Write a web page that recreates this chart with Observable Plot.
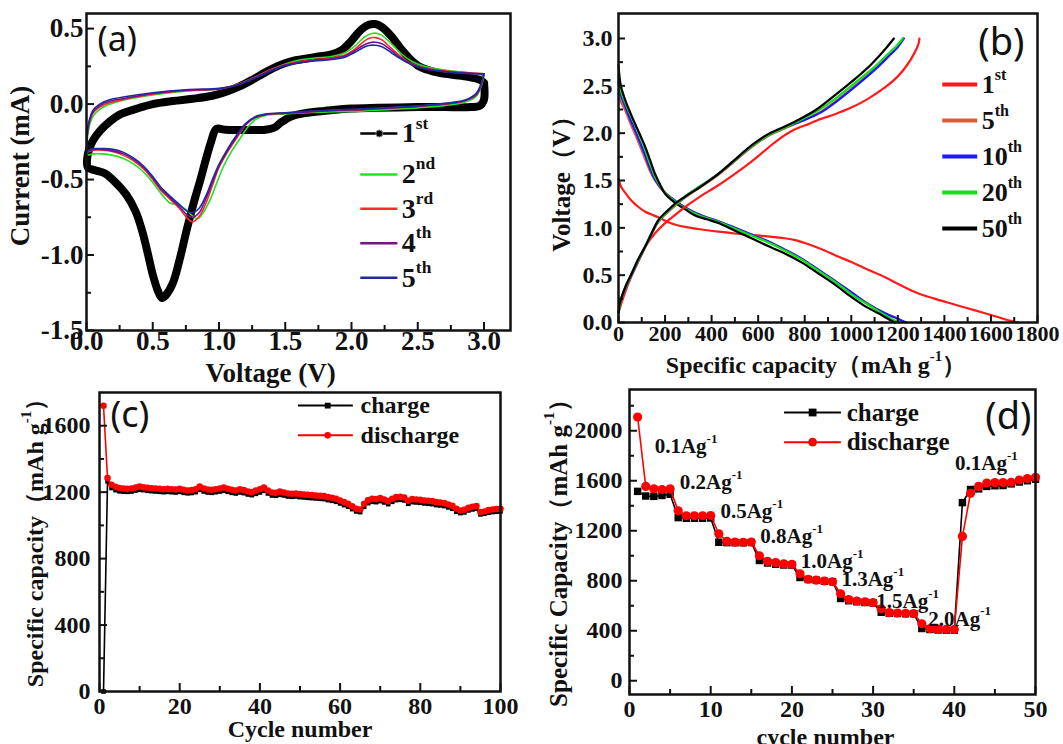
<!DOCTYPE html>
<html><head><meta charset="utf-8">
<script src="https://cdn.jsdelivr.net/npm/d3@7"></script>
<script src="https://cdn.jsdelivr.net/npm/@observablehq/plot@0.6"></script>
<style>
html,body{margin:0;padding:0;background:#fff;}
#root{position:relative;width:1063px;height:744px;overflow:hidden;background:#fff;}
#root svg{position:absolute;}
</style></head>
<body><div id="root"></div>
<script>
// ---------- (a) CV curves: [voltage V, current mA] ----------
const cv1st = [[3.0,0.14],[3.0,0.03],[2.97,-0.01],[2.9,-0.02],[2.7,-0.02],[2.5,-0.02],[2.2,-0.025],[2.0,-0.03],[1.8,-0.045],[1.65,-0.06],[1.55,-0.08],[1.47,-0.12],[1.42,-0.155],[1.35,-0.17],[1.2,-0.172],[1.05,-0.17],[0.98,-0.165],[0.94,-0.25],[0.9,-0.37],[0.86,-0.5],[0.82,-0.62],[0.76,-0.82],[0.7,-1.04],[0.65,-1.19],[0.6,-1.265],[0.57,-1.285],[0.54,-1.24],[0.5,-1.13],[0.46,-0.98],[0.42,-0.84],[0.37,-0.71],[0.3,-0.6],[0.22,-0.52],[0.14,-0.46],[0.07,-0.44],[0.01,-0.42],
 [0.005,-0.36],[0.02,-0.3],[0.05,-0.24],[0.1,-0.18],[0.17,-0.12],[0.25,-0.07],[0.38,-0.03],[0.5,0.0],[0.65,0.02],[0.8,0.035],[0.95,0.055],[1.05,0.08],[1.15,0.115],[1.25,0.16],[1.35,0.21],[1.45,0.255],[1.55,0.285],[1.65,0.3],[1.75,0.315],[1.85,0.33],[1.93,0.36],[2.0,0.42],[2.07,0.49],[2.13,0.525],[2.18,0.53],[2.23,0.51],[2.3,0.45],[2.37,0.37],[2.44,0.3],[2.52,0.245],[2.62,0.215],[2.75,0.195],[2.88,0.18],[2.97,0.16],[3.0,0.14]];
const cv2nd = [[3.0,0.19],[2.98,0.12],[2.94,0.05],[2.85,0.01],[2.7,-0.01],[2.5,-0.025],[2.3,-0.035],[2.1,-0.045],[1.9,-0.05],[1.7,-0.055],[1.5,-0.065],[1.35,-0.075],[1.28,-0.1],[1.22,-0.15],[1.15,-0.24],[1.09,-0.32],[1.03,-0.42],[0.98,-0.53],[0.93,-0.64],[0.88,-0.72],[0.84,-0.76],[0.8,-0.74],[0.75,-0.7],[0.69,-0.665],[0.63,-0.655],[0.57,-0.6],[0.5,-0.52],[0.43,-0.45],[0.36,-0.4],[0.28,-0.36],[0.2,-0.34],[0.12,-0.33],[0.05,-0.33],[0.01,-0.335],
 [0.005,-0.25],[0.02,-0.15],[0.05,-0.08],[0.1,-0.035],[0.18,0.0],[0.3,0.03],[0.5,0.06],[0.75,0.085],[1.0,0.1],[1.1,0.12],[1.2,0.15],[1.3,0.19],[1.4,0.23],[1.5,0.265],[1.6,0.29],[1.72,0.305],[1.85,0.315],[1.95,0.34],[2.02,0.38],[2.08,0.43],[2.13,0.46],[2.18,0.47],[2.23,0.455],[2.3,0.4],[2.38,0.33],[2.46,0.28],[2.55,0.25],[2.7,0.225],[2.85,0.21],[3.0,0.19]];
const cv3rd = [[3.0,0.2],[2.98,0.13],[2.94,0.06],[2.85,0.02],[2.7,0.0],[2.5,-0.015],[2.3,-0.025],[2.1,-0.035],[1.9,-0.04],[1.7,-0.05],[1.5,-0.06],[1.35,-0.07],[1.27,-0.09],[1.2,-0.14],[1.13,-0.23],[1.07,-0.31],[1.0,-0.42],[0.95,-0.54],[0.9,-0.66],[0.85,-0.745],[0.8,-0.78],[0.76,-0.755],[0.7,-0.69],[0.63,-0.63],[0.56,-0.57],[0.5,-0.5],[0.43,-0.43],[0.36,-0.38],[0.28,-0.34],[0.2,-0.315],[0.12,-0.305],[0.05,-0.305],[0.01,-0.315],
 [0.005,-0.22],[0.02,-0.13],[0.05,-0.06],[0.1,-0.02],[0.18,0.01],[0.3,0.035],[0.5,0.065],[0.75,0.09],[1.0,0.1],[1.1,0.12],[1.2,0.15],[1.3,0.19],[1.4,0.23],[1.5,0.262],[1.6,0.28],[1.72,0.295],[1.85,0.305],[1.95,0.325],[2.02,0.36],[2.08,0.405],[2.13,0.435],[2.18,0.44],[2.23,0.425],[2.3,0.37],[2.38,0.31],[2.46,0.265],[2.55,0.24],[2.7,0.22],[2.85,0.21],[3.0,0.2]];
const cv4th = [[3.0,0.2],[2.98,0.13],[2.94,0.06],[2.85,0.02],[2.7,0.0],[2.5,-0.015],[2.3,-0.025],[2.1,-0.035],[1.9,-0.04],[1.7,-0.05],[1.5,-0.06],[1.35,-0.07],[1.27,-0.09],[1.2,-0.135],[1.13,-0.22],[1.07,-0.3],[1.0,-0.41],[0.95,-0.52],[0.9,-0.63],[0.85,-0.72],[0.8,-0.75],[0.76,-0.735],[0.7,-0.68],[0.63,-0.62],[0.56,-0.56],[0.5,-0.49],[0.43,-0.42],[0.36,-0.37],[0.28,-0.33],[0.2,-0.31],[0.12,-0.3],[0.05,-0.3],[0.01,-0.31],
 [0.005,-0.21],[0.02,-0.12],[0.05,-0.05],[0.1,-0.01],[0.18,0.02],[0.3,0.04],[0.5,0.07],[0.75,0.092],[1.0,0.1],[1.1,0.118],[1.2,0.148],[1.3,0.187],[1.4,0.226],[1.5,0.258],[1.6,0.275],[1.72,0.29],[1.85,0.3],[1.95,0.318],[2.02,0.35],[2.08,0.385],[2.13,0.405],[2.18,0.41],[2.23,0.4],[2.3,0.355],[2.38,0.3],[2.46,0.26],[2.55,0.235],[2.7,0.215],[2.85,0.205],[3.0,0.2]];
const cv5th = [[3.0,0.2],[2.98,0.14],[2.94,0.07],[2.85,0.025],[2.7,0.005],[2.5,-0.012],[2.3,-0.022],[2.1,-0.032],[1.9,-0.038],[1.7,-0.047],[1.5,-0.057],[1.35,-0.066],[1.27,-0.085],[1.2,-0.13],[1.13,-0.21],[1.07,-0.29],[1.0,-0.4],[0.95,-0.5],[0.9,-0.61],[0.85,-0.69],[0.8,-0.72],[0.76,-0.71],[0.7,-0.665],[0.63,-0.61],[0.56,-0.55],[0.5,-0.48],[0.43,-0.41],[0.36,-0.36],[0.28,-0.32],[0.2,-0.3],[0.12,-0.295],[0.05,-0.295],[0.01,-0.305],
 [0.005,-0.2],[0.02,-0.11],[0.05,-0.04],[0.1,0.0],[0.18,0.03],[0.3,0.05],[0.5,0.075],[0.75,0.095],[1.0,0.105],[1.1,0.118],[1.2,0.145],[1.3,0.183],[1.4,0.222],[1.5,0.255],[1.6,0.272],[1.72,0.285],[1.85,0.295],[1.95,0.31],[2.02,0.34],[2.08,0.37],[2.13,0.388],[2.18,0.39],[2.23,0.38],[2.3,0.34],[2.38,0.295],[2.46,0.258],[2.55,0.235],[2.7,0.215],[2.85,0.205],[3.0,0.2]];
const cvLabels = ["1^{st}","2^{nd}","3^{rd}","4^{th}","5^{th}"];
const cvColors = ["#000000","#22e022","#ff2a2a","#7a0f8a","#1f2a9e"];

// ---------- (b) charge/discharge profiles: [capacity mAh/g, voltage V] ----------
const dis1st = [[0,1.52],[10,1.44],[29,1.37],[55,1.29],[86,1.22],[115,1.17],[143,1.14],[180,1.1],[214,1.06],[250,1.03],[286,1.01],[350,0.985],[429,0.96],[500,0.94],[571,0.925],[640,0.91],[714,0.89],[760,0.87],[800,0.84],[845,0.8],[886,0.76],[940,0.7],[1000,0.64],[1070,0.56],[1143,0.48],[1215,0.39],[1286,0.31],[1360,0.25],[1429,0.2],[1500,0.15],[1571,0.1],[1640,0.05],[1690,0.015],[1715,0.0]];
const chg1st = [[0,0.1],[20,0.26],[57,0.5],[90,0.67],[120,0.82],[160,0.95],[200,1.05],[250,1.15],[286,1.22],[350,1.33],[429,1.45],[500,1.57],[571,1.7],[640,1.84],[686,1.93],[750,2.03],[820,2.1],[857,2.14],[930,2.2],[1000,2.27],[1070,2.36],[1143,2.48],[1200,2.6],[1240,2.72],[1270,2.84],[1287,2.93],[1293,3.0]];
const dis5th = [[0,2.42],[10,2.33],[29,2.24],[50,2.11],[71,1.99],[93,1.86],[114,1.73],[135,1.6],[157,1.5],[180,1.42],[200,1.37],[230,1.31],[257,1.26],[290,1.21],[329,1.16],[380,1.11],[429,1.07],[500,1.0],[571,0.93],[640,0.86],[714,0.77],[790,0.67],[857,0.56],[930,0.44],[1000,0.32],[1070,0.2],[1143,0.1],[1200,0.04],[1232,0.0]];
const chg5th = [[0,0.1],[14,0.26],[57,0.5],[114,0.79],[171,1.06],[214,1.17],[286,1.32],[429,1.56],[571,1.85],[643,1.97],[714,2.05],[790,2.13],[870,2.23],[950,2.37],[1050,2.57],[1110,2.7],[1160,2.82],[1200,2.92],[1222,3.0]];
const dis10th = [[0,2.55],[10,2.4],[29,2.28],[50,2.15],[71,2.03],[93,1.9],[114,1.77],[135,1.63],[157,1.51],[180,1.43],[200,1.37],[230,1.31],[257,1.26],[290,1.21],[329,1.16],[380,1.11],[429,1.07],[500,1.0],[571,0.93],[640,0.86],[714,0.77],[790,0.67],[857,0.56],[930,0.44],[1000,0.32],[1070,0.2],[1143,0.1],[1200,0.04],[1236,0.0]];
const chg10th = [[0,0.1],[14,0.27],[57,0.51],[114,0.8],[171,1.07],[214,1.18],[286,1.33],[429,1.57],[571,1.86],[643,1.98],[714,2.06],[790,2.13],[870,2.22],[950,2.36],[1050,2.56],[1110,2.69],[1160,2.81],[1200,2.91],[1226,3.0]];
const dis20th = [[0,2.62],[10,2.45],[29,2.32],[50,2.2],[71,2.09],[93,1.96],[114,1.83],[135,1.68],[157,1.54],[180,1.44],[200,1.37],[230,1.3],[257,1.25],[290,1.2],[329,1.15],[380,1.1],[429,1.06],[500,0.99],[571,0.92],[640,0.85],[714,0.76],[790,0.66],[857,0.55],[930,0.43],[1000,0.3],[1070,0.19],[1143,0.08],[1180,0.03],[1207,0.0]];
const chg20th = [[0,0.1],[14,0.27],[57,0.52],[114,0.8],[171,1.07],[214,1.18],[286,1.33],[429,1.57],[571,1.86],[643,1.98],[714,2.06],[790,2.15],[870,2.26],[950,2.4],[1050,2.6],[1100,2.7],[1150,2.82],[1190,2.91],[1221,3.0]];
const dis50th = [[0,2.72],[10,2.5],[29,2.35],[50,2.22],[71,2.1],[93,1.98],[114,1.86],[135,1.72],[157,1.57],[180,1.45],[200,1.36],[230,1.29],[257,1.24],[290,1.19],[329,1.13],[380,1.09],[429,1.05],[500,0.97],[571,0.89],[640,0.81],[714,0.73],[790,0.63],[857,0.52],[930,0.4],[1000,0.27],[1060,0.17],[1114,0.1],[1150,0.05],[1186,0.0]];
const chg50th = [[0,0.1],[5,0.2],[14,0.27],[30,0.38],[57,0.52],[85,0.67],[114,0.8],[140,0.93],[171,1.08],[214,1.19],[250,1.27],[286,1.33],[350,1.43],[429,1.57],[500,1.72],[571,1.87],[643,1.99],[714,2.07],[780,2.15],[850,2.25],[929,2.4],[980,2.5],[1029,2.6],[1075,2.7],[1114,2.8],[1150,2.9],[1183,3.0]];
const gcdLabels = ["1^{st}","5^{th}","10^{th}","20^{th}","50^{th}"];
const gcdColors = ["#ff1a1a","#e05a3a","#1a1aff","#12e012","#000000"];

// ---------- (c) cycling, cycles 1..100 ----------
const cCharge = [0,1265,1225,1212,1205,1203,1202,1204,1210,1214,1212,1208,1206,1204,1202,1200,1202,1200,1198,1202,1196,1193,1195,1200,1214,1204,1198,1196,1200,1204,1208,1202,1196,1192,1198,1194,1186,1182,1190,1198,1208,1192,1180,1178,1184,1180,1174,1172,1174,1170,1168,1166,1164,1162,1160,1158,1152,1148,1142,1132,1122,1112,1098,1084,1080,1112,1134,1142,1140,1146,1138,1128,1142,1152,1154,1150,1130,1140,1138,1136,1132,1130,1128,1122,1120,1116,1108,1100,1082,1074,1078,1090,1096,1100,1066,1070,1076,1080,1082,1084];
const cDischarge = [1720,1285,1245,1232,1225,1222,1220,1222,1228,1234,1230,1226,1224,1222,1220,1218,1220,1218,1216,1220,1214,1210,1212,1218,1234,1222,1216,1214,1218,1222,1228,1220,1214,1210,1218,1212,1204,1200,1210,1218,1228,1210,1198,1196,1204,1198,1192,1190,1192,1188,1186,1184,1182,1180,1178,1176,1170,1166,1160,1150,1140,1130,1115,1100,1096,1130,1152,1160,1158,1164,1156,1146,1160,1170,1172,1168,1148,1158,1156,1154,1150,1148,1146,1140,1138,1134,1126,1118,1100,1090,1094,1106,1112,1116,1080,1084,1092,1096,1098,1100];
const seriesLabels = ["charge","discharge"];

// ---------- (d) rate capability, cycles 1..50 ----------
const dCharge = [1515,1478,1475,1482,1492,1305,1300,1300,1300,1302,1108,1105,1104,1104,1106,962,942,932,926,925,826,810,804,796,792,658,640,632,626,622,548,540,538,536,536,418,410,406,405,405,1425,1530,1535,1555,1560,1562,1575,1590,1600,1612];
const dDischarge = [2110,1555,1535,1530,1535,1360,1320,1320,1320,1322,1176,1115,1110,1108,1110,1000,955,945,935,932,856,812,805,798,792,696,650,638,632,626,576,545,542,540,538,456,418,414,412,410,1155,1500,1555,1582,1585,1586,1588,1606,1618,1628];
const rateLabels = ["0.1Ag^{-1}","0.2Ag^{-1}","0.5Ag^{-1}","0.8Ag^{-1}","1.0Ag^{-1}","1.3Ag^{-1}","1.5Ag^{-1}","2.0Ag^{-1}","0.1Ag^{-1}"];
const rateLabelCycle = [3.1,6.2,11.2,16.1,21.1,26.1,30.4,36.8,40.1];
const rateLabelCap = [1875,1587,1355,1155,955,808,635,493,1736];

// ---------- helpers ----------
const serif = "'Liberation Serif','Times New Roman',serif";
const sans = "'Noto Sans','Open Sans',sans-serif";
const ink = "#111";
const root = document.getElementById("root");

function supify(svg){
  svg.querySelectorAll("text").forEach(t=>{
    const s = t.textContent;
    if(!s.includes("^{")) return;
    while(t.firstChild) t.removeChild(t.firstChild);
    const re=/\^\{([^}]*)\}/g; let last=0, m, up=false;
    const add=(txt,sup)=>{
      const ts=document.createElementNS("http://www.w3.org/2000/svg","tspan");
      ts.textContent=txt;
      if(sup){ts.setAttribute("font-size","0.62em");ts.setAttribute("dy","-0.8em");up=true;}
      else if(up){ts.setAttribute("dy","0.496em");up=false;}
      t.appendChild(ts);
    };
    while((m=re.exec(s))){ if(m.index>last) add(s.slice(last,m.index),false); add(m[1],true); last=re.lastIndex; }
    if(last<s.length) add(s.slice(last),false);
  });
}

function panel(cfg){
  const [mt,mr,mb,ml]=cfg.margin;
  const iw=cfg.width-ml-mr, ih=cfg.height-mt-mb;
  const marks=[
    ...cfg.marks,
    Plot.tickX(cfg.xMinor,{x:d=>d,insetTop:ih-cfg.minorLen,stroke:ink,strokeWidth:2}),
    Plot.tickX(cfg.xMajor,{x:d=>d,insetTop:ih-cfg.majorLen,stroke:ink,strokeWidth:2}),
    Plot.tickY(cfg.yMinor,{y:d=>d,insetRight:iw-cfg.minorLen,stroke:ink,strokeWidth:2}),
    Plot.tickY(cfg.yMajor,{y:d=>d,insetRight:iw-cfg.majorLen,stroke:ink,strokeWidth:2}),
    Plot.axisX(cfg.xMajor,{tickSize:0,tickPadding:cfg.xPad,tickFormat:cfg.xFmt,fontSize:cfg.tickFont,fontWeight:"bold",fill:ink,label:null}),
    Plot.axisY(cfg.yMajor,{tickSize:0,tickPadding:cfg.yPad,tickFormat:cfg.yFmt,fontSize:cfg.yTickFont||cfg.tickFont,fontWeight:"bold",fill:ink,label:null}),
    Plot.text([cfg.xTitle],{text:d=>d,frameAnchor:"bottom",textAnchor:"middle",dx:cfg.xTitleDx,dy:cfg.xTitleDy,lineAnchor:"middle",fontSize:cfg.titleFont,fontWeight:"bold",fill:ink}),
    Plot.text([cfg.yTitle],{text:d=>d,frameAnchor:"left",textAnchor:"middle",rotate:-90,dx:cfg.yTitleDx,dy:cfg.yTitleDy,lineAnchor:"middle",fontSize:cfg.yTitleFont||cfg.titleFont,fontWeight:"bold",fill:ink}),
    Plot.text([cfg.tag],{text:d=>d,frameAnchor:cfg.tagAnchor,textAnchor:cfg.tagAnchor.endsWith("left")?"start":"end",lineAnchor:"top",dx:cfg.tagDx,dy:cfg.tagDy,fontFamily:sans,fontWeight:"normal",fontSize:cfg.tagFont,fill:ink}),
    Plot.frame({stroke:ink,strokeWidth:2.5})
  ];
  const svg=Plot.plot({
    width:cfg.width,height:cfg.height,
    marginTop:mt,marginRight:mr,marginBottom:mb,marginLeft:ml,
    x:{domain:cfg.xDomain},y:{domain:cfg.yDomain},
    style:{background:"transparent",fontFamily:serif,fontWeight:"bold",overflow:"visible",color:ink},
    marks
  });
  supify(svg);
  svg.style.left=cfg.left+"px"; svg.style.top=cfg.top+"px";
  svg.style.position="absolute"; svg.style.maxWidth="none";
  root.appendChild(svg);
}
const f1=d=>d.toFixed(1), f0=d=>String(d);
const xy={x:d=>d[0],y:d=>d[1]};

// ---------- (a) ----------
const cvSeries=[cv1st,cv2nd,cv3rd,cv4th,cv5th];
const cvLegY=i=> i===0 ? -0.195 : -0.466-(i-1)*0.228;
panel({
  left:0,top:0,width:531,height:395,margin:[13,21,65,86],
  xDomain:[0,3.2],yDomain:[-1.5,0.6],
  xMajor:[0,0.5,1,1.5,2,2.5,3],xMinor:[0.25,0.75,1.25,1.75,2.25,2.75],
  yMajor:[-1.5,-1,-0.5,0,0.5],yMinor:[-1.25,-0.75,-0.25,0.25],
  xFmt:f1,yFmt:f1,tickFont:27,majorLen:8,minorLen:5,xPad:0,yPad:3,
  xTitle:"Voltage (V)",xTitleDx:-28,xTitleDy:43,
  yTitle:"Current (mA)",yTitleDx:-66,yTitleDy:-6,titleFont:27,
  tag:"(a)",tagAnchor:"top-left",tagDx:11,tagDy:13,tagFont:34,
  marks:[
    ...cvSeries.map((s,k)=>Plot.line(s,{...xy,stroke:cvColors[k],strokeWidth:k===0?8:1.6,curve:"catmull-rom",strokeLinejoin:"round",strokeLinecap:"round"})),
    Plot.ruleY(cvLabels,{y:(d,i)=>cvLegY(i),x1:2.07,x2:2.35,stroke:(d,i)=>cvColors[i],strokeWidth:2.5}),
    Plot.dot([cvLabels[0]],{x:2.21,y:cvLegY(0),r:3.5,fill:"#000",stroke:"#888",strokeWidth:1}),
    Plot.text(cvLabels,{x:2.38,y:(d,i)=>cvLegY(i),text:d=>d,textAnchor:"start",lineAnchor:"middle",fontSize:28,fontWeight:"bold",fill:ink})
  ]
});

// ---------- (b) ----------
const disSeries=[dis1st,dis5th,dis10th,dis20th,dis50th];
const chgSeries=[chg1st,chg5th,chg10th,chg20th,chg50th];
const gLegY=i=>2.514-i*0.38;
panel({
  left:531,top:0,width:532,height:395,margin:[13,26,73,87],
  xDomain:[0,1800],yDomain:[0,3.264],
  xMajor:[0,200,400,600,800,1000,1200,1400,1600,1800],xMinor:[100,300,500,700,900,1100,1300,1500,1700],
  yMajor:[0,0.5,1,1.5,2,2.5,3],yMinor:[0.25,0.75,1.25,1.75,2.25,2.75],
  xFmt:f0,yFmt:f1,tickFont:22,yTickFont:24,majorLen:7,minorLen:5,xPad:3,yPad:6,
  xTitle:"Specific capacity（mAh g^{-1}）",xTitleDx:-12,xTitleDy:43,
  yTitle:"Voltage（V）",yTitleDx:-57,yTitleDy:10,titleFont:24,yTitleFont:25,
  tag:"(b)",tagAnchor:"top-right",tagDx:-13,tagDy:15,tagFont:38,
  marks:[
    ...disSeries.map((s,k)=>Plot.line(s,{...xy,stroke:gcdColors[k],strokeWidth:2.2,curve:"catmull-rom"})),
    ...chgSeries.map((s,k)=>Plot.line(s,{...xy,stroke:gcdColors[k],strokeWidth:2.2,curve:"catmull-rom"})),
    Plot.ruleY(gcdLabels,{y:(d,i)=>gLegY(i),x1:1393,x2:1543,stroke:(d,i)=>gcdColors[i],strokeWidth:4}),
    Plot.text(gcdLabels,{x:1560,y:(d,i)=>gLegY(i),text:d=>d,textAnchor:"start",lineAnchor:"middle",fontSize:26,fontWeight:"bold",fill:ink})
  ]
});

// ---------- (c) ----------
const cRows=cDischarge.map((v,i)=>({cycle:i+1,charge:cCharge[i],discharge:v}));
const cLegY=[1721,1542];
panel({
  left:0,top:370,width:531,height:374,margin:[22,31,53,99],
  xDomain:[0,100],yDomain:[0,1800],
  xMajor:[0,20,40,60,80,100],xMinor:[10,30,50,70,90],
  yMajor:[0,400,800,1200,1600],yMinor:[200,600,1000,1400],
  xFmt:f0,yFmt:f0,tickFont:24,majorLen:8,minorLen:5,xPad:5,yPad:9,
  xTitle:"Cycle number",xTitleDx:0,xTitleDy:38,
  yTitle:"Specific capacity（mAh g^{-1}）",yTitleDx:-64,yTitleDy:-5,titleFont:24,
  tag:"(c)",tagAnchor:"top-left",tagDx:11,tagDy:9,tagFont:36,
  marks:[
    Plot.line(cRows,{x:"cycle",y:"charge",stroke:"#000",strokeWidth:1.6}),
    Plot.dot(cRows,{x:"cycle",y:"charge",symbol:"square",r:2.6,fill:"#000"}),
    Plot.line(cRows,{x:"cycle",y:"discharge",stroke:"#ff0000",strokeWidth:1.6}),
    Plot.dot(cRows,{x:"cycle",y:"discharge",r:3.3,fill:"#ff0000"}),
    Plot.ruleY(seriesLabels,{y:(d,i)=>cLegY[i],x1:49.6,x2:63.3,stroke:(d,i)=>i?"#ff0000":"#000",strokeWidth:2}),
    Plot.dot(seriesLabels,{x:56.9,y:(d,i)=>cLegY[i],symbol:(d,i)=>i?"circle":"square",r:3.3,fill:(d,i)=>i?"#ff0000":"#000"}),
    Plot.text(seriesLabels,{x:65.1,y:(d,i)=>cLegY[i],text:d=>d,textAnchor:"start",lineAnchor:"middle",fontSize:24,fontWeight:"bold",fill:ink})
  ]
});

// ---------- (d) ----------
const dRows=dDischarge.map((v,i)=>({cycle:i+1,charge:dCharge[i],discharge:v}));
const dLegY=[2146,1909];
panel({
  left:531,top:370,width:532,height:374,margin:[19,28,50,98],
  xDomain:[0,50],yDomain:[-110,2330],
  xMajor:[0,10,20,30,40,50],xMinor:[5,15,25,35,45],
  yMajor:[0,400,800,1200,1600,2000],yMinor:[200,600,1000,1400,1800,2200],
  xFmt:f0,yFmt:f0,tickFont:24,majorLen:8,minorLen:5,xPad:5,yPad:7,
  xTitle:"cycle number",xTitleDx:-7,xTitleDy:43,
  yTitle:"Specific Capacity（mAh g^{-1}）",yTitleDx:-71,yTitleDy:5,titleFont:24,yTitleFont:25,
  tag:"(d)",tagAnchor:"top-right",tagDx:-4,tagDy:13,tagFont:38,
  marks:[
    Plot.line(dRows,{x:"cycle",y:"charge",stroke:"#000",strokeWidth:1.6}),
    Plot.dot(dRows,{x:"cycle",y:"charge",symbol:"square",r:4.2,fill:"#000"}),
    Plot.line(dRows,{x:"cycle",y:"discharge",stroke:"#ff0000",strokeWidth:1.6}),
    Plot.dot(dRows,{x:"cycle",y:"discharge",r:4.6,fill:"#ff0000"}),
    Plot.text(rateLabels,{x:(d,i)=>rateLabelCycle[i],y:(d,i)=>rateLabelCap[i],text:d=>d,textAnchor:"start",lineAnchor:"middle",fontSize:21,fontWeight:"bold",fill:ink}),
    Plot.ruleY(seriesLabels,{y:(d,i)=>dLegY[i],x1:19.1,x2:26.1,stroke:(d,i)=>i?"#ff0000":"#000",strokeWidth:2}),
    Plot.dot(seriesLabels,{x:22.55,y:(d,i)=>dLegY[i],symbol:(d,i)=>i?"circle":"square",r:4.4,fill:(d,i)=>i?"#ff0000":"#000"}),
    Plot.text(seriesLabels,{x:26.75,y:(d,i)=>dLegY[i],text:d=>d,textAnchor:"start",lineAnchor:"middle",fontSize:25,fontWeight:"bold",fill:ink})
  ]
});
</script></body></html>
